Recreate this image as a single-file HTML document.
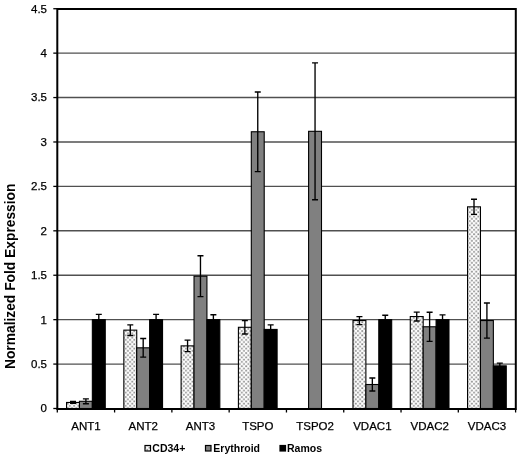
<!DOCTYPE html><html><head><meta charset="utf-8"><style>html,body{margin:0;padding:0;background:#fff;}body{width:520px;height:455px;overflow:hidden;}svg{display:block;font-family:"Liberation Sans",sans-serif;filter:grayscale(1);}</style></head><body>
<svg width="520" height="455" viewBox="0 0 520 455">
<defs><pattern id="dots" patternUnits="userSpaceOnUse" width="4.3" height="4.4" x="0" y="0"><rect width="4.3" height="4.4" fill="#fff"/><rect x="0.2" y="0.2" width="1.7" height="1.7" fill="#8a8a8a"/><rect x="2.35" y="2.4" width="1.7" height="1.7" fill="#8a8a8a"/></pattern></defs>
<rect width="520" height="455" fill="#fff"/>
<line x1="57.3" x2="515.6" y1="364.08" y2="364.08" stroke="#505050" stroke-width="1.4"/>
<line x1="57.3" x2="515.6" y1="319.66" y2="319.66" stroke="#505050" stroke-width="1.4"/>
<line x1="57.3" x2="515.6" y1="275.24" y2="275.24" stroke="#505050" stroke-width="1.4"/>
<line x1="57.3" x2="515.6" y1="230.82" y2="230.82" stroke="#505050" stroke-width="1.4"/>
<line x1="57.3" x2="515.6" y1="186.40" y2="186.40" stroke="#505050" stroke-width="1.4"/>
<line x1="57.3" x2="515.6" y1="141.98" y2="141.98" stroke="#505050" stroke-width="1.4"/>
<line x1="57.3" x2="515.6" y1="97.56" y2="97.56" stroke="#505050" stroke-width="1.4"/>
<line x1="57.3" x2="515.6" y1="53.14" y2="53.14" stroke="#505050" stroke-width="1.4"/>
<rect x="66.55" y="402.46" width="12.90" height="6.04" fill="url(#dots)" stroke="#000" stroke-width="1.1"/>
<rect x="79.45" y="401.30" width="12.90" height="7.20" fill="#808080" stroke="#000" stroke-width="1.1"/>
<rect x="92.35" y="319.66" width="12.90" height="88.84" fill="#000" stroke="#000" stroke-width="1.1"/>
<rect x="123.84" y="330.14" width="12.90" height="78.36" fill="url(#dots)" stroke="#000" stroke-width="1.1"/>
<rect x="136.74" y="347.82" width="12.90" height="60.68" fill="#808080" stroke="#000" stroke-width="1.1"/>
<rect x="149.64" y="319.66" width="12.90" height="88.84" fill="#000" stroke="#000" stroke-width="1.1"/>
<rect x="181.12" y="345.87" width="12.90" height="62.63" fill="url(#dots)" stroke="#000" stroke-width="1.1"/>
<rect x="194.03" y="276.22" width="12.90" height="132.28" fill="#808080" stroke="#000" stroke-width="1.1"/>
<rect x="206.93" y="319.66" width="12.90" height="88.84" fill="#000" stroke="#000" stroke-width="1.1"/>
<rect x="238.41" y="327.30" width="12.90" height="81.20" fill="url(#dots)" stroke="#000" stroke-width="1.1"/>
<rect x="251.31" y="131.76" width="12.90" height="276.74" fill="#808080" stroke="#000" stroke-width="1.1"/>
<rect x="264.21" y="329.43" width="12.90" height="79.07" fill="#000" stroke="#000" stroke-width="1.1"/>
<rect x="308.60" y="131.32" width="12.90" height="277.18" fill="#808080" stroke="#000" stroke-width="1.1"/>
<rect x="352.99" y="320.55" width="12.90" height="87.95" fill="url(#dots)" stroke="#000" stroke-width="1.1"/>
<rect x="365.89" y="384.51" width="12.90" height="23.99" fill="#808080" stroke="#000" stroke-width="1.1"/>
<rect x="378.79" y="319.66" width="12.90" height="88.84" fill="#000" stroke="#000" stroke-width="1.1"/>
<rect x="410.28" y="316.55" width="12.90" height="91.95" fill="url(#dots)" stroke="#000" stroke-width="1.1"/>
<rect x="423.18" y="326.77" width="12.90" height="81.73" fill="#808080" stroke="#000" stroke-width="1.1"/>
<rect x="436.08" y="319.66" width="12.90" height="88.84" fill="#000" stroke="#000" stroke-width="1.1"/>
<rect x="467.56" y="206.83" width="12.90" height="201.67" fill="url(#dots)" stroke="#000" stroke-width="1.1"/>
<rect x="480.46" y="320.55" width="12.90" height="87.95" fill="#808080" stroke="#000" stroke-width="1.1"/>
<rect x="493.36" y="365.86" width="12.90" height="42.64" fill="#000" stroke="#000" stroke-width="1.1"/>
<path d="M73.00 401.48V403.44M70.00 401.48H76.00M70.00 403.44H76.00" stroke="#000" stroke-width="1.35" fill="none"/>
<path d="M85.90 398.91V403.70M82.90 398.91H88.90M82.90 403.70H88.90" stroke="#000" stroke-width="1.35" fill="none"/>
<path d="M98.80 314.33V324.99M95.80 314.33H101.80M95.80 324.99H101.80" stroke="#000" stroke-width="1.35" fill="none"/>
<path d="M130.29 324.81V335.47M127.29 324.81H133.29M127.29 335.47H133.29" stroke="#000" stroke-width="1.35" fill="none"/>
<path d="M143.19 338.49V357.15M140.19 338.49H146.19M140.19 357.15H146.19" stroke="#000" stroke-width="1.35" fill="none"/>
<path d="M156.09 314.33V324.99M153.09 314.33H159.09M153.09 324.99H159.09" stroke="#000" stroke-width="1.35" fill="none"/>
<path d="M187.57 340.18V351.55M184.57 340.18H190.57M184.57 351.55H190.57" stroke="#000" stroke-width="1.35" fill="none"/>
<path d="M200.47 255.78V296.65M197.47 255.78H203.47M197.47 296.65H203.47" stroke="#000" stroke-width="1.35" fill="none"/>
<path d="M213.38 314.77V324.55M210.38 314.77H216.38M210.38 324.55H216.38" stroke="#000" stroke-width="1.35" fill="none"/>
<path d="M244.86 320.64V333.96M241.86 320.64H247.86M241.86 333.96H247.86" stroke="#000" stroke-width="1.35" fill="none"/>
<path d="M257.76 91.96V171.56M254.76 91.96H260.76M254.76 171.56H260.76" stroke="#000" stroke-width="1.35" fill="none"/>
<path d="M270.66 324.81V334.05M267.66 324.81H273.66M267.66 334.05H273.66" stroke="#000" stroke-width="1.35" fill="none"/>
<path d="M315.05 62.91V199.73M312.05 62.91H318.05M312.05 199.73H318.05" stroke="#000" stroke-width="1.35" fill="none"/>
<path d="M359.44 316.55V324.55M356.44 316.55H362.44M356.44 324.55H362.44" stroke="#000" stroke-width="1.35" fill="none"/>
<path d="M372.34 378.03V391.00M369.34 378.03H375.34M369.34 391.00H375.34" stroke="#000" stroke-width="1.35" fill="none"/>
<path d="M385.24 315.22V324.10M382.24 315.22H388.24M382.24 324.10H388.24" stroke="#000" stroke-width="1.35" fill="none"/>
<path d="M416.73 312.11V320.99M413.73 312.11H419.73M413.73 320.99H419.73" stroke="#000" stroke-width="1.35" fill="none"/>
<path d="M429.62 312.20V341.34M426.62 312.20H432.62M426.62 341.34H432.62" stroke="#000" stroke-width="1.35" fill="none"/>
<path d="M442.53 314.86V324.46M439.53 314.86H445.53M439.53 324.46H445.53" stroke="#000" stroke-width="1.35" fill="none"/>
<path d="M474.01 199.28V214.38M471.01 199.28H477.01M471.01 214.38H477.01" stroke="#000" stroke-width="1.35" fill="none"/>
<path d="M486.91 302.96V338.14M483.91 302.96H489.91M483.91 338.14H489.91" stroke="#000" stroke-width="1.35" fill="none"/>
<path d="M499.81 363.19V368.52M496.81 363.19H502.81M496.81 368.52H502.81" stroke="#000" stroke-width="1.35" fill="none"/>
<path d="M57.3 9H515.8V409H57.3Z" fill="none" stroke="#000" stroke-width="2"/>
<line x1="53.30" x2="57.3" y1="408.50" y2="408.50" stroke="#000" stroke-width="1.3"/>
<line x1="53.30" x2="57.3" y1="364.08" y2="364.08" stroke="#000" stroke-width="1.3"/>
<line x1="53.30" x2="57.3" y1="319.66" y2="319.66" stroke="#000" stroke-width="1.3"/>
<line x1="53.30" x2="57.3" y1="275.24" y2="275.24" stroke="#000" stroke-width="1.3"/>
<line x1="53.30" x2="57.3" y1="230.82" y2="230.82" stroke="#000" stroke-width="1.3"/>
<line x1="53.30" x2="57.3" y1="186.40" y2="186.40" stroke="#000" stroke-width="1.3"/>
<line x1="53.30" x2="57.3" y1="141.98" y2="141.98" stroke="#000" stroke-width="1.3"/>
<line x1="53.30" x2="57.3" y1="97.56" y2="97.56" stroke="#000" stroke-width="1.3"/>
<line x1="53.30" x2="57.3" y1="53.14" y2="53.14" stroke="#000" stroke-width="1.3"/>
<line x1="53.30" x2="57.3" y1="8.72" y2="8.72" stroke="#000" stroke-width="1.3"/>
<line x1="57.30" x2="57.30" y1="408.5" y2="412.50" stroke="#000" stroke-width="1.3"/>
<line x1="114.59" x2="114.59" y1="408.5" y2="412.50" stroke="#000" stroke-width="1.3"/>
<line x1="171.88" x2="171.88" y1="408.5" y2="412.50" stroke="#000" stroke-width="1.3"/>
<line x1="229.16" x2="229.16" y1="408.5" y2="412.50" stroke="#000" stroke-width="1.3"/>
<line x1="286.45" x2="286.45" y1="408.5" y2="412.50" stroke="#000" stroke-width="1.3"/>
<line x1="343.74" x2="343.74" y1="408.5" y2="412.50" stroke="#000" stroke-width="1.3"/>
<line x1="401.03" x2="401.03" y1="408.5" y2="412.50" stroke="#000" stroke-width="1.3"/>
<line x1="458.31" x2="458.31" y1="408.5" y2="412.50" stroke="#000" stroke-width="1.3"/>
<line x1="515.60" x2="515.60" y1="408.5" y2="412.50" stroke="#000" stroke-width="1.3"/>
<text x="47" y="412.40" font-size="11.5" text-anchor="end" fill="#000" stroke="#000" stroke-width="0.25">0</text>
<text x="47" y="367.98" font-size="11.5" text-anchor="end" fill="#000" stroke="#000" stroke-width="0.25">0.5</text>
<text x="47" y="323.56" font-size="11.5" text-anchor="end" fill="#000" stroke="#000" stroke-width="0.25">1</text>
<text x="47" y="279.14" font-size="11.5" text-anchor="end" fill="#000" stroke="#000" stroke-width="0.25">1.5</text>
<text x="47" y="234.72" font-size="11.5" text-anchor="end" fill="#000" stroke="#000" stroke-width="0.25">2</text>
<text x="47" y="190.30" font-size="11.5" text-anchor="end" fill="#000" stroke="#000" stroke-width="0.25">2.5</text>
<text x="47" y="145.88" font-size="11.5" text-anchor="end" fill="#000" stroke="#000" stroke-width="0.25">3</text>
<text x="47" y="101.46" font-size="11.5" text-anchor="end" fill="#000" stroke="#000" stroke-width="0.25">3.5</text>
<text x="47" y="57.04" font-size="11.5" text-anchor="end" fill="#000" stroke="#000" stroke-width="0.25">4</text>
<text x="47" y="12.62" font-size="11.5" text-anchor="end" fill="#000" stroke="#000" stroke-width="0.25">4.5</text>
<text x="85.94" y="430.3" font-size="11.5" text-anchor="middle" fill="#000" stroke="#000" stroke-width="0.25">ANT1</text>
<text x="143.23" y="430.3" font-size="11.5" text-anchor="middle" fill="#000" stroke="#000" stroke-width="0.25">ANT2</text>
<text x="200.52" y="430.3" font-size="11.5" text-anchor="middle" fill="#000" stroke="#000" stroke-width="0.25">ANT3</text>
<text x="257.81" y="430.3" font-size="11.5" text-anchor="middle" fill="#000" stroke="#000" stroke-width="0.25">TSPO</text>
<text x="315.09" y="430.3" font-size="11.5" text-anchor="middle" fill="#000" stroke="#000" stroke-width="0.25">TSPO2</text>
<text x="372.38" y="430.3" font-size="11.5" text-anchor="middle" fill="#000" stroke="#000" stroke-width="0.25">VDAC1</text>
<text x="429.67" y="430.3" font-size="11.5" text-anchor="middle" fill="#000" stroke="#000" stroke-width="0.25">VDAC2</text>
<text x="486.96" y="430.3" font-size="11.5" text-anchor="middle" fill="#000" stroke="#000" stroke-width="0.25">VDAC3</text>
<text transform="translate(14.8,276.3) rotate(-90)" font-size="13.8" font-weight="bold" text-anchor="middle" fill="#000">Normalized Fold Expression</text>
<rect x="145" y="445.5" width="5.5" height="5.5" fill="url(#dots)" stroke="#000" stroke-width="1.2"/>
<text x="152.3" y="451.5" font-size="10.5" font-weight="bold" fill="#000">CD34+</text>
<rect x="205.5" y="445.5" width="5.5" height="5.5" fill="#808080" stroke="#000" stroke-width="1.2"/>
<text x="213.3" y="451.5" font-size="10.5" font-weight="bold" fill="#000">Erythroid</text>
<rect x="280" y="445.5" width="5.5" height="5.5" fill="#000" stroke="#000" stroke-width="1.2"/>
<text x="287" y="451.5" font-size="10.5" font-weight="bold" fill="#000">Ramos</text>
</svg></body></html>
